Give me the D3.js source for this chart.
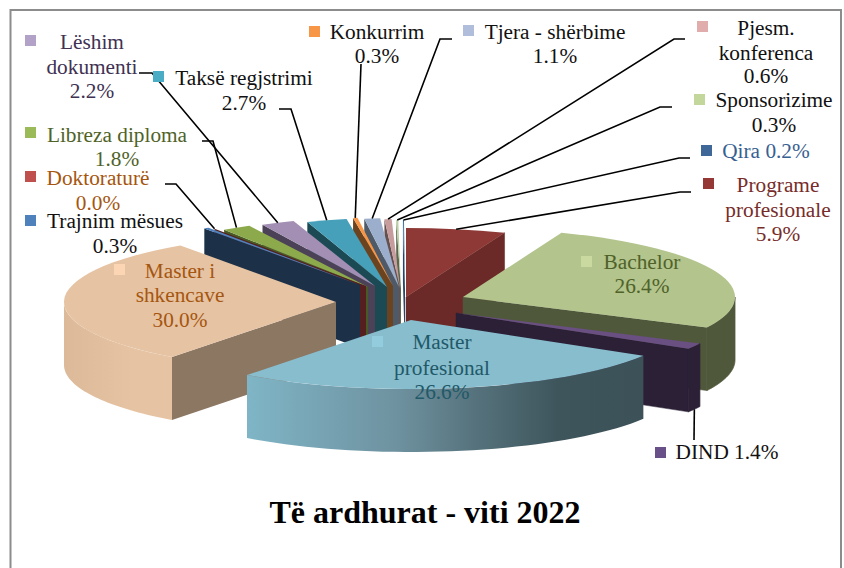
<!DOCTYPE html>
<html>
<head>
<meta charset="utf-8">
<script src="https://cdn.jsdelivr.net/npm/d3@7"></script>
<style>
    html, body { margin: 0; padding: 0; background: #fff; overflow: hidden; }
    text { font-family: "Liberation Serif", serif; }
</style>
</head>
<body>
<svg id="chart"></svg>
<script>
// Data, clockwise from the top of the pie
const categories = ["Programe profesionale", "Bachelor", "DIND", "Master profesional", "Master i shkencave",
    "Trajnim mësues", "Doktoraturë", "Libreza diploma", "Lëshim dokumenti", "Taksë regjstrimi",
    "Konkurrim", "Tjera - shërbime", "Pjesm. konferenca", "Sponsorizime", "Qira"]
const values = [5.9, 26.4, 1.4, 26.6, 30.0, 0.3, 0.0, 1.8, 2.2, 2.7, 0.3, 1.1, 0.6, 0.3, 0.2]
const chartTitle = "Të ardhurat - viti 2022"

// Colours, same order as categories
const topColors = ["#8E3936", "#B3C48D", "#6A4F82", "#88BDCE", "#E6C3A3", "#4F81BD", "#C0504D", "#8CAA4C",
    "#A28FB3", "#46A0BA", "#F79646", "#9BAECB", "#C79C9C", "#BCD0A2", "#3F6C9E"]
const wallColors = ["#6B2A28", "#50583C", "#2B2036", "#5D7C87", "#8C7763", "#1C3048", "#541F1E", "#4A5A24",
    "#4C4258", "#1C4A54", "#6C431F", "#4F5A68", "#655050", "#5A6650", "#2A4468"]
const swatchColors = ["#953735", "#C9D9A0", "#6A5088", "#93CDDD", "#FCD5B5", "#4F81BD", "#C0504D", "#9BBB59",
    "#B2A2C7", "#4BACC6", "#F79646", "#B0BEDC", "#E0ACAC", "#C3D69B", "#3F6797"]
const textColors = ["#772C2A", "#4F6228", "#111", "#215968", "#A5560F", "#111", "#A5560F", "#4F6228",
    "#403152", "#111", "#111", "#111", "#111", "#111", "#376092"]

// Pie layout
const width = 844
const height = 568
const cx = 402
const cy = 303
const rx = 272
const ry = 69
const depth = 63

// Explosion of every slice from the pie centre, and how far the slice reaches sideways
const explode = [[4, -6, 1], [61, -6, 1], [54, 10, 1], [9, 17, 1], [-66, -1, 1], [-42, -18, 1], [-36, -17, 1],
    [-34, -16, .95], [-27, -17, .9], [-15, -16, .88], [-9, -17, .87], [-3, -16, .85], [-2, -15, .7], [-1, -14, .4], [3, -14, .3]]

// Labels: swatch corner, text centre, baselines, and the elbow of the leader line
const labelLayout = [
    { lines: ["Programe", "profesionale"], sw: [703, 178], tx: 778, base: [192, 217, 241], leader: [[691, 192], [680, 192]] },
    { lines: ["Bachelor"], sw: [581, 256], tx: 642, base: [269, 293] },
    { lines: [], inline: "DIND", sw: [655, 447], tx: 727, base: [459], leader: [[694, 440]], low: true },
    { lines: ["Master", "profesional"], sw: [372, 336], tx: 442, base: [349, 375, 399] },
    { lines: ["Master i", "shkencave"], sw: [114, 264], tx: 180, base: [278, 302, 327] },
    { lines: ["Trajnim mësues"], sw: [25, 215], tx: 115, base: [228, 253] },
    { lines: ["Doktoraturë"], sw: [25, 171], tx: 98, base: [185, 210], leader: [[165, 184], [176, 184]] },
    { lines: ["Libreza diploma"], sw: [25, 127], tx: 117, base: [142, 166], leader: [[202, 141], [213, 141]] },
    { lines: ["Lëshim", "dokumenti"], sw: [25, 35], tx: 92, base: [49, 74, 98], leader: [[139, 73], [152, 73]] },
    { lines: ["Taksë regjstrimi"], sw: [153, 71], tx: 244, base: [85, 110], leader: [[279, 109], [291, 109]] },
    { lines: ["Konkurrim"], sw: [309, 26], tx: 377, base: [39, 63], leader: [[361, 64]] },
    { lines: ["Tjera - shërbime"], sw: [463, 25], tx: 555, base: [39, 63], leader: [[452, 39], [440, 39]] },
    { lines: ["Pjesm.", "konferenca"], sw: [697, 21], tx: 766, base: [35, 60, 83], leader: [[685, 39], [674, 39]] },
    { lines: ["Sponsorizime"], sw: [694, 94], tx: 774, base: [107, 132], leader: [[672, 107], [660, 107]] },
    { lines: [], inline: "Qira", sw: [701, 145], tx: 766, base: [158], leader: [[690, 158], [679, 158]] }
]

// Back slices first, the big front ones last
const drawOrder = [14, 13, 12, 11, 10, 9, 8, 7, 6, 5, 0, 1, 2, 4, 3]

const svg = d3.select("#chart")
    .attr("width", width)
    .attr("height", height)

svg.append("rect")
    .attr("width", width)
    .attr("height", height)
    .attr("fill", "#fff")

// Frame runs off the bottom of the picture
svg.append("rect")
    .attr("x", 10.5)
    .attr("y", 10)
    .attr("width", 830.5)
    .attr("height", 600)
    .attr("fill", "none")
    .attr("stroke", "#8C8C8C")
    .attr("stroke-width", 2)

// Shading of the curved walls
const defs = svg.append("defs")
const profGradient = defs.append("linearGradient")
    .attr("id", "profWall")
    .attr("gradientUnits", "userSpaceOnUse")
    .attr("x1", cx + explode[3][0] - rx * .6)
    .attr("x2", cx + explode[3][0] + rx * .86)
    .attr("y1", 0)
    .attr("y2", 0)
profGradient.selectAll("stop")
    .data([[0, "#7FB5C6"], [.38, "#6E919F"], [.57, "#56737D"], [.78, "#3E555C"], [1, "#3C5158"]])
    .join("stop")
    .attr("offset", d => d[0])
    .attr("stop-color", d => d[1])
const shkGradient = defs.append("linearGradient")
    .attr("id", "shkWall")
    .attr("gradientUnits", "userSpaceOnUse")
    .attr("x1", cx + explode[4][0] - rx)
    .attr("x2", cx + explode[4][0] - rx * .75)
    .attr("y1", 0)
    .attr("y2", 0)
shkGradient.selectAll("stop")
    .data([[0, "#DBB999"], [1, "#E6C3A3"]])
    .join("stop")
    .attr("offset", d => d[0])
    .attr("stop-color", d => d[1])
const outerFill = { 3: "url(#profWall)", 4: "url(#shkWall)" }

// Values are percentages that do not quite reach 100, so the pie stops short
const slices = d3.pie()
    .sort(null)
    .endAngle(2 * Math.PI * d3.sum(values) / 100)(values)

const project = (i, angle, r, z) => [
    cx + explode[i][0] + rx * explode[i][2] * r * Math.sin(angle),
    cy + explode[i][1] - ry * r * Math.cos(angle) + z
]

const line = d3.line()

function sideWall(i, angle) {
    return line([project(i, angle, 1, 0), project(i, angle, 0, 0), project(i, angle, 0, depth), project(i, angle, 1, depth)]) + "Z"
}

function outerWall(i, a0, a1) {
    const steps = d3.range(0, 41).map(s => a0 + (a1 - a0) * s / 40)
    const top = steps.map(a => project(i, a, 1, 0))
    const bottom = steps.slice().reverse().map(a => project(i, a, 1, depth))
    return line(top.concat(bottom)) + "Z"
}

const pieGroup = svg.append("g")

drawOrder.forEach(i => {
    const s = slices[i]
    const g = pieGroup.append("g")

    // A radial wall faces the viewer only on one side of the pie
    if (Math.sin(s.endAngle) > 0) {
        g.append("path").attr("d", sideWall(i, s.endAngle)).attr("fill", wallColors[i]).attr("stroke", wallColors[i]).attr("stroke-width", .5)
    }
    if (Math.sin(s.startAngle) < 0) {
        g.append("path").attr("d", sideWall(i, s.startAngle)).attr("fill", wallColors[i])
    }

    // Curved wall, only the part that is in front
    const a0 = Math.max(s.startAngle, Math.PI / 2)
    const a1 = Math.min(s.endAngle, 3 * Math.PI / 2)
    if (a1 > a0) {
        g.append("path")
            .attr("d", outerWall(i, a0, a1))
            .attr("fill", outerFill[i] || wallColors[i])
            .attr("stroke", outerFill[i] ? "none" : wallColors[i])
            .attr("stroke-width", .8)
    }

    // Top face, a circular arc squashed to an ellipse
    const arc = d3.arc().innerRadius(0).outerRadius(rx)
    g.append("path")
        .attr("d", arc(s))
        .attr("transform", `translate(${cx + explode[i][0]},${cy + explode[i][1]}) scale(${explode[i][2]},${ry / rx})`)
        .attr("fill", topColors[i])
})

// Leader lines end on the rim of their slice
const leaderLine = d3.line()
labelLayout.forEach((l, i) => {
    if (!l.leader) return
    const s = slices[i]
    const mid = (s.startAngle + s.endAngle) / 2
    svg.append("path")
        .attr("d", leaderLine(l.leader.concat([project(i, mid, 1, l.low ? depth : 0)])))
        .attr("fill", "none")
        .attr("stroke", "#000")
        .attr("stroke-width", 1.6)
})

// Labels
labelLayout.forEach((l, i) => {
    const pct = values[i].toFixed(1) + "%"
    svg.append("rect")
        .attr("x", l.sw[0])
        .attr("y", l.sw[1])
        .attr("width", 11)
        .attr("height", 11)
        .attr("fill", swatchColors[i])
    const rows = l.inline ? [l.inline + " " + pct] : l.lines.concat([pct])
    svg.selectAll(null)
        .data(rows)
        .enter()
        .append("text")
        .attr("x", l.tx)
        .attr("y", (d, j) => l.base[j])
        .attr("text-anchor", "middle")
        .attr("font-size", 21.3)
        .attr("fill", textColors[i])
        .text(d => d)
})

svg.append("text")
    .attr("x", 425)
    .attr("y", 523)
    .attr("text-anchor", "middle")
    .attr("font-size", 32)
    .attr("font-weight", "bold")
    .attr("fill", "#000")
    .text(chartTitle)
</script>
</body>
</html>
